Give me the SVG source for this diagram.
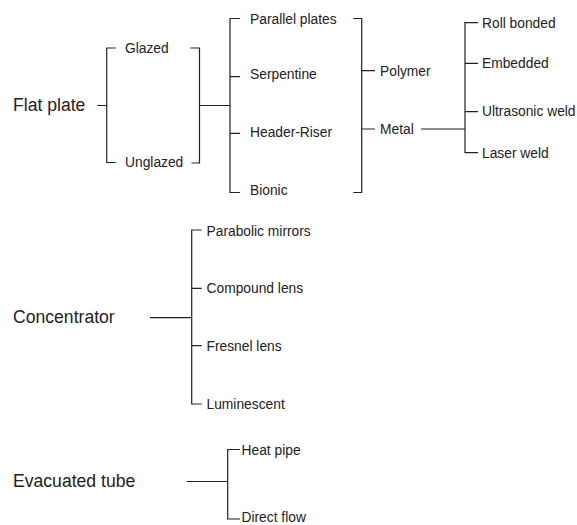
<svg xmlns="http://www.w3.org/2000/svg" width="577" height="525" viewBox="0 0 577 525">
<style>
text{font-family:"Liberation Sans",Arial,sans-serif;fill:#222}
.big{font-size:17.6px}
.sm{font-size:13.8px}
.c path{fill:none;stroke:#222;stroke-width:1.2}
</style>
<rect width="577" height="525" fill="#fff"/>
<g id="flat-plate"><text class="big" x="13" y="111">Flat plate</text></g>
<g id="glazed"><text class="sm" x="125" y="52.5">Glazed</text></g>
<g id="unglazed"><text class="sm" x="125" y="166.5">Unglazed</text></g>
<g id="parallel-plates"><text class="sm" x="250" y="23.5">Parallel plates</text></g>
<g id="serpentine"><text class="sm" x="250" y="78.5">Serpentine</text></g>
<g id="header-riser"><text class="sm" x="250" y="137">Header-Riser</text></g>
<g id="bionic"><text class="sm" x="250" y="194.5">Bionic</text></g>
<g id="polymer"><text class="sm" x="380" y="75.5">Polymer</text></g>
<g id="metal"><text class="sm" x="380" y="133.5">Metal</text></g>
<g id="roll-bonded"><text class="sm" x="482" y="27.5">Roll bonded</text></g>
<g id="embedded"><text class="sm" x="482" y="68">Embedded</text></g>
<g id="ultrasonic-weld"><text class="sm" x="482" y="116">Ultrasonic weld</text></g>
<g id="laser-weld"><text class="sm" x="482" y="157.5">Laser weld</text></g>
<g id="concentrator"><text class="big" x="13" y="323">Concentrator</text></g>
<g id="parabolic-mirrors"><text class="sm" x="206.5" y="236">Parabolic mirrors</text></g>
<g id="compound-lens"><text class="sm" x="206.5" y="293">Compound lens</text></g>
<g id="fresnel-lens"><text class="sm" x="206.5" y="350.5">Fresnel lens</text></g>
<g id="luminescent"><text class="sm" x="206.5" y="408.5">Luminescent</text></g>
<g id="evacuated-tube"><text class="big" x="13" y="487">Evacuated tube</text></g>
<g id="heat-pipe"><text class="sm" x="241.5" y="455">Heat pipe</text></g>
<g id="direct-flow"><text class="sm" x="241.5" y="521.5">Direct flow</text></g>
<g id="connectors" class="c">
<path d="M97.3 105.5H106.7M115.7 48H106.7V162.5H115.7"/>
<path d="M190.5 48H199.5V163H191.5M199.5 105.5H230"/>
<path d="M240 18.5H230V192.5H240M230 76.7H240M230 133.3H240"/>
<path d="M353.3 18.5H361.7V192.5H353.3M361.7 70.7H375M361.7 129H375"/>
<path d="M421 129H465M478 22.7H465V152.7H478M465 63.3H478M465 111.7H478"/>
<path d="M150 317.7H191.7M201.7 230H191.7V404H201.7M191.7 288.3H201.7M191.7 345.7H201.7"/>
<path d="M186.7 481.5H227.7M240 449.5H227.7V519H240"/>
</g>
</svg>
